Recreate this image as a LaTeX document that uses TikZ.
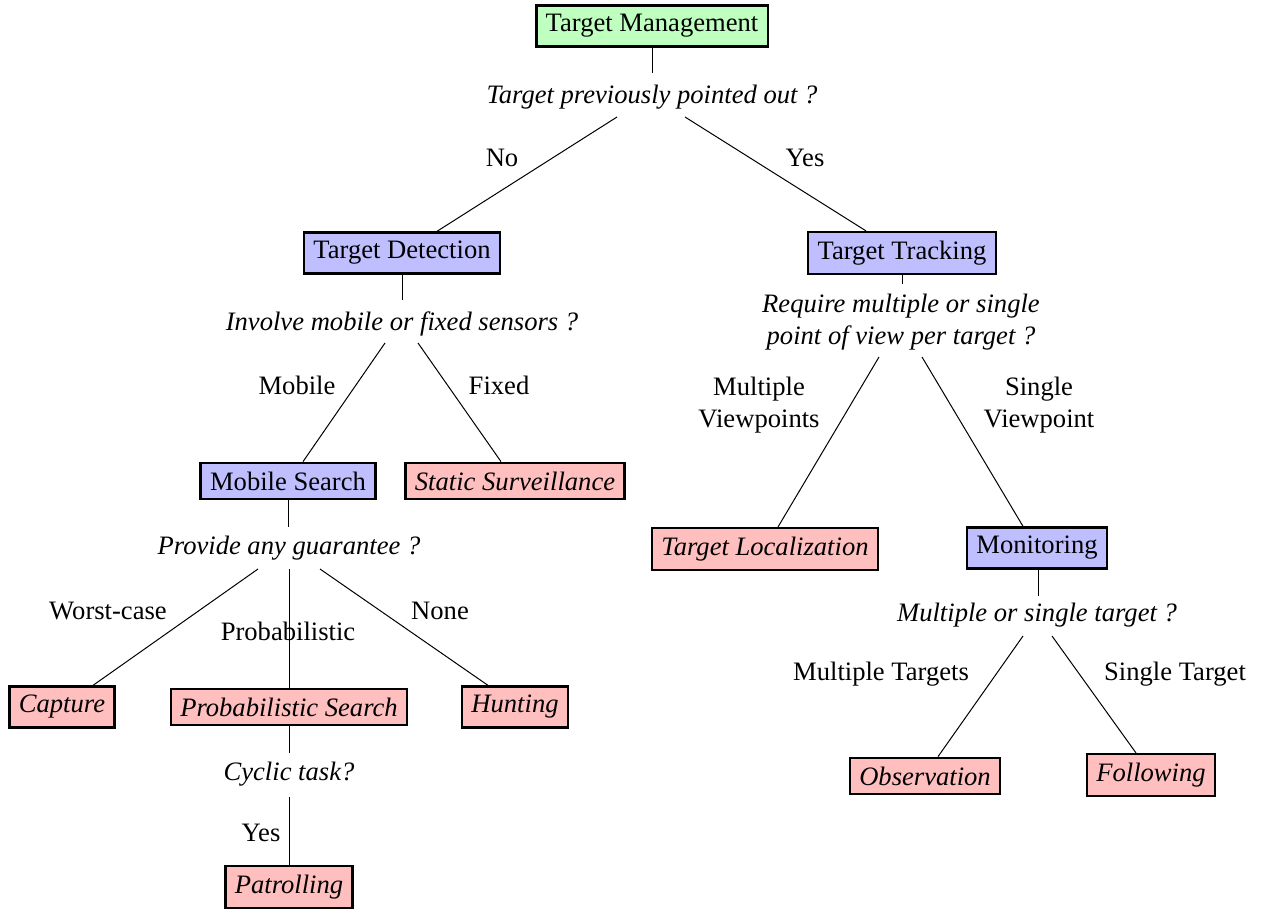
\documentclass[tikz,border=0pt]{standalone}
\usepackage{fontspec}
\setmainfont{Liberation Serif}
\usetikzlibrary{calc}
\begin{document}
\begin{tikzpicture}[x=0.5pt,y=-0.5pt,
  every node/.style={font=\fontsize{13.3}{16}\selectfont},
  box/.style={draw=black,line width=1.2pt,inner xsep=4.7pt,inner ysep=4.4pt},
  rootbox/.style={box,fill=green!25},
  midbox/.style={box,fill=blue!25},
  leafbox/.style={box,fill=red!25,font=\fontsize{13.3}{16}\selectfont\itshape},
  quest/.style={inner sep=0pt,align=center,font=\fontsize{13.3}{16}\selectfont\itshape},
  lbl/.style={inner sep=0pt,align=center},
  conn/.style={line width=0.5pt}]
\useasboundingbox (0,0) rectangle (1262,909);

% nodes
\node[rootbox] (tm) at (652,26) {Target Management};
\node[quest] (q1) at (652,97) {Target previously pointed out ?};
\node[lbl] (lno) at (502,158) {No};
\node[lbl] (lyes) at (805,158) {Yes};

\node[midbox] (td) at (402,253) {Target Detection};
\node[midbox] (tt) at (902,253) {Target Tracking};

\node[quest] (q2) at (402,324) {Involve mobile or fixed sensors ?};
\node[lbl] (lmob) at (297,385) {Mobile};
\node[lbl] (lfix) at (499,385) {Fixed};

\node[quest] (q3) at (901,322) {Require multiple or single\\point of view per target ?};
\node[lbl] (lmv) at (759,405) {Multiple\\Viewpoints};
\node[lbl] (lsv) at (1039,405) {Single\\Viewpoint};

\node[midbox] (ms) at (288,481) {Mobile Search};
\node[leafbox] (ss) at (515,481) {Static Surveillance};

\node[leafbox] (tl) at (765,549) {Target Localization};
\node[midbox] (mon) at (1037,548) {Monitoring};

\node[quest] (q4) at (1037,615) {Multiple or single target ?};
\node[lbl] (lmt) at (881,674) {Multiple Targets};
\node[lbl] (lst) at (1175,674) {Single Target};
\node[leafbox] (obs) at (925,776) {Observation};
\node[leafbox] (fol) at (1151,775) {Following};

\node[quest] (q5) at (289,548) {Provide any guarantee ?};
\node[lbl] (lwc) at (108,611) {Worst-case};
\node[lbl] (lpr) at (288,631) {Probabilistic};
\node[lbl] (lnone) at (440,611) {None};
\node[leafbox] (cap) at (62,707) {Capture};
\node[leafbox] (ps) at (289,707) {Probabilistic Search};
\node[leafbox] (hun) at (515,707) {Hunting};

\node[quest] (q6) at (289,774) {Cyclic task?};
\node[lbl] (lyes2) at (261,833) {Yes};
\node[leafbox] (pat) at (289,887) {Patrolling};

% connectors
\draw[conn] (tm.south) -- ($(q1.center)+(0,-24)$);
\draw[conn] ($(q1.center)+(-35,20)$) -- ($(td.north)+(35,0)$);
\draw[conn] ($(q1.center)+(33,20)$) -- ($(tt.north)+(-36,0)$);

\draw[conn] (td.south) -- ($(q2.center)+(0,-24)$);
\draw[conn] ($(q2.center)+(-17,19)$) -- ($(ms.north)+(15,0)$);
\draw[conn] ($(q2.center)+(16,19)$) -- ($(ss.north)+(-14,0)$);

\draw[conn] (tt.south) -- ($(q3.center)+(1,-38)$);
\draw[conn] ($(q3.center)+(-22,35)$) -- ($(tl.north)+(13,0)$);
\draw[conn] ($(q3.center)+(21,35)$) -- ($(mon.north)+(-14,0)$);

\draw[conn] ($(mon.south)+(1,0)$) -- ($(q4.center)+(1,-19)$);
\draw[conn] ($(q4.center)+(-14,21)$) -- ($(obs.north)+(13,0)$);
\draw[conn] ($(q4.center)+(15,21)$) -- ($(fol.north)+(-15,0)$);

\draw[conn] (ms.south) -- ($(q5.center)+(-1,-21)$);
\draw[conn] ($(q5.center)+(-31,21)$) -- ($(cap.north)+(31,0)$);
\draw[conn] ($(q5.center)+(0,21)$) -- (ps.north);
\draw[conn] ($(q5.center)+(31,21)$) -- ($(hun.north)+(-27,0)$);

\draw[conn] (ps.south) -- ($(q6.center)+(0,-21)$);
\draw[conn] ($(q6.center)+(0,23)$) -- (pat.north);
\end{tikzpicture}
\end{document}
